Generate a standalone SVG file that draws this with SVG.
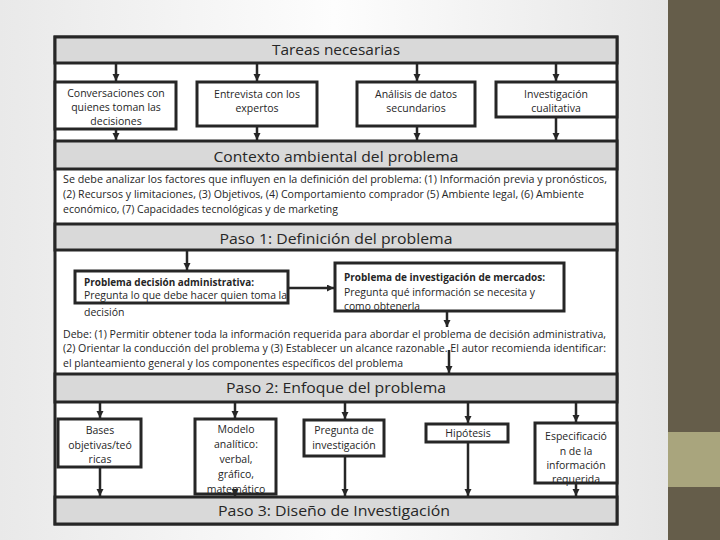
<svg xmlns="http://www.w3.org/2000/svg" width="720" height="540" viewBox="0 0 720 540">
<defs>
<linearGradient id="bg" x1="0" y1="0" x2="1" y2="0">
<stop offset="0" stop-color="#e9e9e9"/>
<stop offset="0.5" stop-color="#fdfdfd"/>
<stop offset="1" stop-color="#e6e6e6"/>
</linearGradient>
<marker id="ah" markerUnits="userSpaceOnUse" markerWidth="8" markerHeight="8" refX="7" refY="3.5" orient="auto">
<path d="M0,0 L7,3.5 L0,7 z" fill="#262626"/>
</marker>
<style>
.hdr{fill:#d9d9d9;stroke:#262626;stroke-width:3}
.box{fill:#ffffff;stroke:#262626;stroke-width:3}
.body{fill:#ffffff;stroke:#262626;stroke-width:3}
.con{stroke:#262626;stroke-width:2.5;fill:none;marker-end:url(#ah)}
.ht{font-family:"Open Sans","Noto Sans",sans-serif;font-size:14px;fill:#262626;text-anchor:middle}
.bt{font-family:"Open Sans","Noto Sans",sans-serif;font-size:10.5px;fill:#262626;text-anchor:middle}
.tx{font-family:"Open Sans","Noto Sans",sans-serif;font-size:10.5px;fill:#262626}
.b{font-weight:bold}
</style>
</defs>
<rect x="0" y="0" width="668" height="540" fill="url(#bg)"/>
<rect x="668" y="0" width="52" height="540" fill="#655d4a"/>
<rect x="668" y="432" width="52" height="55" fill="#a9a57d"/>

<g id="frame">
<rect class="body" x="55" y="37" width="562" height="487"/>
</g>

<g id="tareas">
<rect class="hdr" x="55" y="37" width="562" height="26"/>
<text class="ht" x="336" y="55" textLength="128" lengthAdjust="spacingAndGlyphs">Tareas necesarias</text>
</g>
<g id="conversaciones">
<rect class="box" x="55" y="82" width="121" height="47"/>
<text class="bt" x="116" y="97">Conversaciones con</text>
<text class="bt" x="116" y="111">quienes toman las</text>
<text class="bt" x="116" y="125">decisiones</text>
</g>
<g id="entrevista">
<rect class="box" x="197" y="82" width="120" height="44"/>
<text class="bt" x="257" y="98">Entrevista con los</text>
<text class="bt" x="257" y="112">expertos</text>
</g>
<g id="analisis">
<rect class="box" x="357" y="82" width="118" height="44"/>
<text class="bt" x="416" y="98">Análisis de datos</text>
<text class="bt" x="416" y="112">secundarios</text>
</g>
<g id="investigacion">
<rect class="box" x="496" y="82" width="121" height="35"/>
<text class="bt" x="556" y="98">Investigación</text>
<text class="bt" x="556" y="112">cualitativa</text>
</g>

<g id="contexto">
<rect class="hdr" x="55" y="141" width="562" height="28"/>
<text class="ht" x="336" y="162" textLength="245" lengthAdjust="spacingAndGlyphs">Contexto ambiental del problema</text>
<text class="tx" x="63" y="183" textLength="544" lengthAdjust="spacingAndGlyphs">Se debe analizar los factores que influyen en la definición del problema: (1) Información previa y pronósticos,</text>
<text class="tx" x="63" y="198" textLength="521" lengthAdjust="spacingAndGlyphs">(2) Recursos y limitaciones, (3) Objetivos, (4) Comportamiento comprador (5) Ambiente legal, (6) Ambiente</text>
<text class="tx" x="63" y="213" textLength="275" lengthAdjust="spacingAndGlyphs">económico, (7) Capacidades tecnológicas y de marketing</text>
</g>

<g id="paso1">
<rect class="hdr" x="55" y="224" width="562" height="26"/>
<text class="ht" x="336" y="244" textLength="233" lengthAdjust="spacingAndGlyphs">Paso 1: Definición del problema</text>
</g>
<g id="problema-decision">
<rect class="box" x="75" y="271" width="213" height="32"/>
<text class="tx b" x="84" y="286" textLength="170" lengthAdjust="spacingAndGlyphs">Problema decisión administrativa:</text>
<text class="tx" x="84" y="299" textLength="203" lengthAdjust="spacingAndGlyphs">Pregunta lo que debe hacer quien toma la</text>
<text class="tx" x="84" y="316">decisión</text>
</g>
<g id="problema-investigacion">
<rect class="box" x="335" y="263" width="229" height="48"/>
<text class="tx b" x="344" y="281" textLength="201" lengthAdjust="spacingAndGlyphs">Problema de investigación de mercados:</text>
<text class="tx" x="344" y="296" textLength="191" lengthAdjust="spacingAndGlyphs">Pregunta qué información se necesita y</text>
<text class="tx" x="344" y="310" textLength="76" lengthAdjust="spacingAndGlyphs">como obtenerla</text>
</g>
<g id="debe">
<text class="tx" x="63" y="338" textLength="543" lengthAdjust="spacingAndGlyphs">Debe: (1) Permitir obtener toda la información requerida para abordar el problema de decisión administrativa,</text>
<text class="tx" x="63" y="352" textLength="543" lengthAdjust="spacingAndGlyphs">(2) Orientar la conducción del problema y (3) Establecer un alcance razonable. El autor recomienda identificar:</text>
<text class="tx" x="63" y="367" textLength="340" lengthAdjust="spacingAndGlyphs">el planteamiento general y los componentes específicos del problema</text>
</g>

<g id="paso2">
<rect class="hdr" x="55" y="374" width="562" height="28"/>
<text class="ht" x="336" y="393" textLength="220" lengthAdjust="spacingAndGlyphs">Paso 2: Enfoque del problema</text>
</g>
<g id="bases">
<rect class="box" x="58" y="419" width="83" height="48"/>
<text class="bt" x="100" y="434">Bases</text>
<text class="bt" x="100" y="449">objetivas/teó</text>
<text class="bt" x="100" y="463">ricas</text>
</g>
<g id="modelo">
<rect class="box" x="195" y="419" width="81" height="75"/>
<text class="bt" x="236" y="433">Modelo</text>
<text class="bt" x="236" y="448">analítico:</text>
<text class="bt" x="236" y="463">verbal,</text>
<text class="bt" x="236" y="478">gráfico,</text>
<text class="bt" x="236" y="493">matemático</text>
</g>
<g id="pregunta">
<rect class="box" x="304" y="420" width="80" height="36"/>
<text class="bt" x="344" y="434">Pregunta de</text>
<text class="bt" x="344" y="449">investigación</text>
</g>
<g id="hipotesis">
<rect class="box" x="426" y="424" width="82" height="18"/>
<text class="bt" x="468" y="437">Hipótesis</text>
</g>
<g id="especificacion">
<rect class="box" x="535" y="423" width="82" height="60"/>
<text class="bt" x="576" y="440">Especificació</text>
<text class="bt" x="576" y="455">n de la</text>
<text class="bt" x="576" y="469">información</text>
<text class="bt" x="576" y="483">requerida</text>
</g>

<g id="paso3">
<rect class="hdr" x="55" y="497" width="562" height="27"/>
<text class="ht" x="334" y="516" textLength="232" lengthAdjust="spacingAndGlyphs">Paso 3: Diseño de Investigación</text>
</g>

<g id="connectors">
<line class="con" x1="116" y1="64" x2="116" y2="81"/>
<line class="con" x1="257" y1="64" x2="257" y2="81"/>
<line class="con" x1="417" y1="64" x2="417" y2="81"/>
<line class="con" x1="556" y1="64" x2="556" y2="81"/>
<line class="con" x1="116" y1="130" x2="116" y2="140"/>
<line class="con" x1="257" y1="127" x2="257" y2="140"/>
<line class="con" x1="417" y1="127" x2="417" y2="140"/>
<line class="con" x1="556" y1="118" x2="556" y2="140"/>
<line class="con" x1="187" y1="251" x2="187" y2="270"/>
<line class="con" x1="289" y1="288" x2="334" y2="288"/>
<line class="con" x1="447" y1="312" x2="447" y2="327"/>
<line class="con" x1="449" y1="350" x2="449" y2="373"/>
<line class="con" x1="100" y1="403" x2="100" y2="418"/>
<line class="con" x1="235" y1="403" x2="235" y2="418"/>
<line class="con" x1="345" y1="403" x2="345" y2="419"/>
<line class="con" x1="468" y1="403" x2="468" y2="423"/>
<line class="con" x1="576" y1="403" x2="576" y2="422"/>
<line class="con" x1="100" y1="468" x2="100" y2="496"/>
<line class="con" x1="235" y1="495" x2="235" y2="496"/>
<line class="con" x1="345" y1="457" x2="345" y2="496"/>
<line class="con" x1="468" y1="443" x2="468" y2="496"/>
<line class="con" x1="576" y1="484" x2="576" y2="496"/>
</g>
</svg>
